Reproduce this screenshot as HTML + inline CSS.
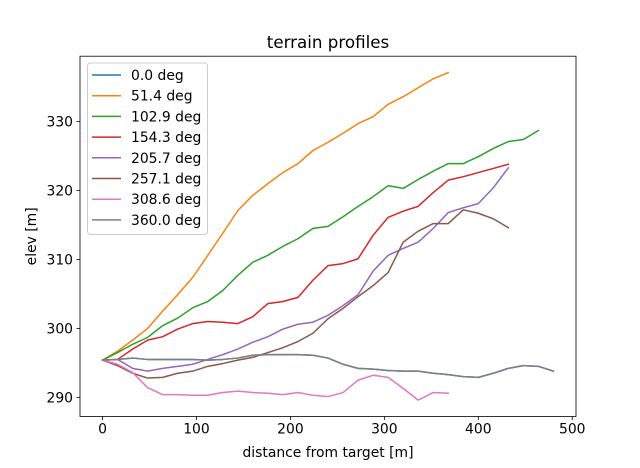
<!DOCTYPE html>
<html><head><meta charset="utf-8"><style>
body{margin:0;background:#fff}
svg{display:block;font-family:"DejaVu Sans","Liberation Sans",sans-serif}
</style></head><body>
<svg id="chart" width="640" height="468" viewBox="0 0 640 468" xmlns="http://www.w3.org/2000/svg">
<rect width="640" height="468" fill="#fff"/>
<g id="plot"></g>
</svg>
<script>
const xStep = 16;
const seriesNames = ["0.0 deg","51.4 deg","102.9 deg","154.3 deg","205.7 deg","257.1 deg","308.6 deg","360.0 deg"];
const seriesColors = ["#1f77b4","#ff7f0e","#2ca02c","#d62728","#9467bd","#8c564b","#e377c2","#7f7f7f"];
const elev0 = [295.4,295.5,295.7,295.5,295.5,295.5,295.5,295.4,295.5,295.7,296.1,296.2,296.2,296.2,296.1,295.7,294.8,294.2,294.1,293.9,293.8,293.8,293.5,293.3,293.0,292.9,293.5,294.2,294.6,294.5,293.8];
const elev51 = [295.4,296.7,298.3,300.0,302.5,304.9,307.4,310.6,313.8,317.1,319.3,321.0,322.6,323.9,325.8,327.0,328.3,329.7,330.7,332.5,333.6,334.9,336.2,337.1];
const elev103 = [295.4,296.5,297.7,298.7,300.4,301.5,303.0,303.9,305.5,307.7,309.6,310.6,311.9,313.0,314.5,314.8,316.2,317.7,319.1,320.7,320.3,321.6,322.8,323.9,323.9,324.9,326.1,327.1,327.4,328.7];
const elev154 = [295.4,295.5,297.0,298.3,298.8,299.9,300.7,301.0,300.9,300.7,301.7,303.6,303.9,304.5,307.0,309.1,309.4,310.1,313.5,316.1,317.0,317.7,319.7,321.5,322.0,322.6,323.2,323.8];
const elev206 = [295.4,295.5,294.2,293.8,294.2,294.5,294.8,295.5,296.2,297.0,298.0,298.8,299.9,300.6,300.9,301.9,303.3,304.9,308.3,310.6,311.6,312.5,314.5,316.8,317.5,318.1,320.4,323.3];
const elev257 = [295.4,294.6,293.5,292.8,292.9,293.5,293.8,294.5,294.9,295.4,295.8,296.5,297.2,298.1,299.3,301.4,302.9,304.6,306.2,308.1,312.5,314.1,315.2,315.2,317.2,316.7,315.9,314.6];
const elev309 = [295.4,294.8,293.6,291.4,290.4,290.4,290.3,290.3,290.7,290.9,290.7,290.6,290.4,290.7,290.3,290.1,290.7,292.5,293.2,292.9,291.3,289.6,290.7,290.6];
const elev360 = [295.4,295.5,295.7,295.5,295.5,295.5,295.5,295.4,295.5,295.7,296.1,296.2,296.2,296.2,296.1,295.7,294.8,294.2,294.1,293.9,293.8,293.8,293.5,293.3,293.0,292.9,293.5,294.2,294.6,294.5,293.8];
const xTicks = [0,100,200,300,400,500];
const yTicks = [290,300,310,320,330];
const allSeries = [elev0,elev51,elev103,elev154,elev206,elev257,elev309,elev360];

const NS="http://www.w3.org/2000/svg";
const L=80,R=576,T=56.2,B=416.5;
let maxX=0,minY=Infinity,maxY=-Infinity;
allSeries.forEach(s=>{maxX=Math.max(maxX,(s.length-1)*xStep);s.forEach(v=>{minY=Math.min(minY,v);maxY=Math.max(maxY,v);});});
const xm=maxX*0.05, ym=(maxY-minY)*0.05;
const x0=-xm,x1=maxX+xm,y0=minY-ym,y1=maxY+ym;
const sx=v=>L+(v-x0)/(x1-x0)*(R-L);
const sy=v=>B-(v-y0)/(y1-y0)*(B-T);
const g=document.getElementById('plot');
function mk(tag,attrs,parent){const e=document.createElementNS(NS,tag);for(const k in attrs)e.setAttribute(k,attrs[k]);(parent||g).appendChild(e);return e;}

allSeries.forEach((s,i)=>{
  const pts=s.map((v,k)=>sx(k*xStep).toFixed(2)+','+sy(v).toFixed(2)).join(' ');
  const p=mk('polyline',{points:pts,fill:'none',stroke:seriesColors[i],'stroke-width':1.5,'stroke-linejoin':'round','stroke-linecap':'square'});
  
  
});

const frame=mk('rect',{x:L,y:T,width:R-L,height:B-T,fill:'none',stroke:'#000','stroke-width':0.8});



xTicks.forEach(t=>{
  const x=sx(t);
  const tk=mk('line',{x1:x,x2:x,y1:B,y2:B+3.5,stroke:'#000','stroke-width':0.8});
  
  
  const tx=mk('text',{x:x,y:B+17,'text-anchor':'middle','font-size':'13.9px',fill:'#000'});
  tx.textContent=t;
  
  
});
yTicks.forEach(t=>{
  const y=sy(t);
  const tk=mk('line',{x1:L-3.5,x2:L,y1:y,y2:y,stroke:'#000','stroke-width':0.8});
  
  
  const tx=mk('text',{x:L-7,y:y+5,'text-anchor':'end','font-size':'13.9px',fill:'#000'});
  tx.textContent=t;
  
  
});

const title=mk('text',{x:(L+R)/2,y:48,'text-anchor':'middle','font-size':'16.7px',fill:'#000'});
title.textContent='terrain profiles';


const xl=mk('text',{x:(L+R)/2,y:457,'text-anchor':'middle','font-size':'13.9px',fill:'#000'});
xl.textContent='distance from target [m]';


const yl=mk('text',{x:0,y:0,'text-anchor':'middle','font-size':'13.9px',fill:'#000',transform:'translate(36,'+((T+B)/2)+') rotate(-90)'});
yl.textContent='elev [m]';



const leg=mk('g',{});


mk('rect',{x:87.5,y:63,width:120,height:171.5,rx:3,fill:'#fff','fill-opacity':0.8,stroke:'#ccc','stroke-width':1},leg);
seriesNames.forEach((n,i)=>{
  const y=75+i*20.7;
  const e=mk('g',{},leg);
  
  
  mk('line',{x1:92,x2:121,y1:y,y2:y,stroke:seriesColors[i],'stroke-width':1.5},e);
  const t=mk('text',{x:131,y:y+5,'font-size':'13.9px',fill:'#000'},e);
  t.textContent=n;
});
</script>
</body></html>
